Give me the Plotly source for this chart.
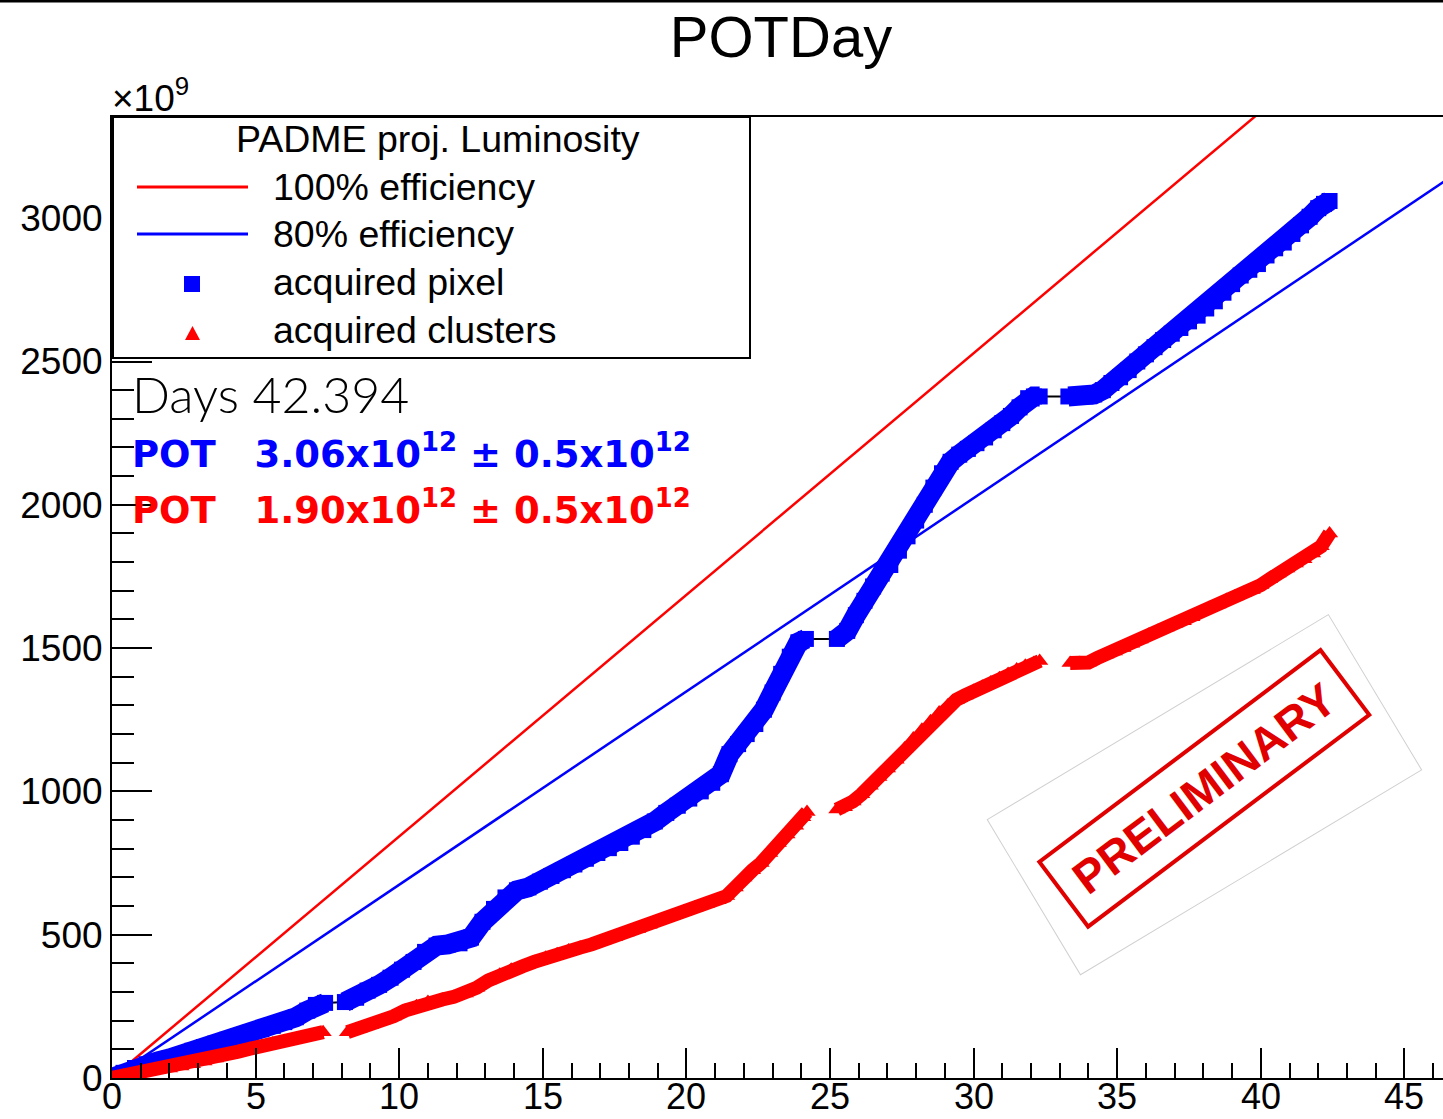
import plotly.graph_objects as go

# ---------------- data (POT in units of 1e9) ----------------
pixel_days = [0.0, 0.4, 0.8, 1.2, 1.6, 2.0, 2.4, 2.8, 3.2, 3.6, 4.0, 4.4, 4.8, 5.2, 5.6, 6.0, 6.4, 6.8, 7.1, 7.42,
              8.11, 8.5, 8.9, 9.3, 9.7, 10.1, 10.5, 10.9, 11.3, 11.7, 12.1, 12.5, 12.9, 13.3, 13.7, 14.1, 14.5, 14.9,
              15.3, 15.7, 16.1, 16.5, 16.9, 17.3, 17.7, 18.1, 18.5, 18.9, 19.3, 19.7, 20.1, 20.5, 20.9, 21.2, 21.5,
              21.8, 22.1, 22.4, 22.7, 23.0, 23.3, 23.6, 23.9, 24.16,
              25.24, 25.6, 25.9, 26.2, 26.5, 26.8, 27.1, 27.4, 27.7, 28.0, 28.3, 28.6, 28.9, 29.2, 29.5, 29.8, 30.1,
              30.4, 30.7, 31.0, 31.3, 31.6, 31.9, 32.1, 32.3,
              33.3, 33.6, 33.9, 34.2, 34.5, 34.8, 35.1, 35.4, 35.7, 36.0, 36.3, 36.6, 36.9, 37.2, 37.5, 37.8, 38.1,
              38.4, 38.7, 39.0, 39.3, 39.6, 39.9, 40.2, 40.5, 40.8, 41.1, 41.4, 41.7, 42.0, 42.2, 42.394]
pixel_pot = [0, 18, 35, 48, 58, 68, 80, 95, 108, 120, 133, 145, 158, 170, 182, 195, 212, 235, 255, 262,
             265, 280, 305, 325, 350, 378, 405, 440, 462, 466, 470, 490, 545, 590, 630, 655, 665, 685,
             705, 725, 745, 765, 785, 802, 820, 842, 865, 895, 925, 950, 975, 1000, 1030, 1060, 1130,
             1165, 1200, 1235, 1285, 1345, 1410, 1470, 1520, 1532,
             1532, 1560, 1615, 1665, 1715, 1760, 1790, 1840, 1890, 1945, 2000, 2060, 2110, 2150, 2175, 2195, 2215,
             2235, 2260, 2285, 2310, 2340, 2372, 2378, 2378,
             2378, 2378, 2378, 2385, 2400, 2425, 2445, 2470, 2500, 2525, 2550, 2575, 2597, 2617, 2640, 2660, 2685,
             2710, 2740, 2770, 2800, 2820, 2840, 2870, 2895, 2915, 2945, 2975, 3005, 3035, 3050, 3060]

cluster_days = [0.0, 0.4, 0.8, 1.2, 1.6, 2.0, 2.4, 2.8, 3.2, 3.6, 4.0, 4.4, 4.8, 5.2, 5.6, 6.0, 6.4, 6.8, 7.1, 7.35,
                8.2, 8.6, 9.0, 9.4, 9.8, 10.2, 10.6, 11.0, 11.5, 11.9, 12.3, 12.7, 13.1, 13.5, 13.9, 14.3, 14.7,
                15.1, 15.5, 15.9, 16.3, 16.7, 17.1, 17.5, 17.9, 18.3, 18.7, 19.1, 19.5, 19.9, 20.3, 20.7, 21.1,
                21.4, 21.7, 22.0, 22.3, 22.6, 22.9, 23.2, 23.5, 23.8, 24.05, 24.2,
                25.24, 25.5, 25.8, 26.1, 26.4, 26.7, 27.0, 27.3, 27.6, 27.9, 28.2, 28.5, 28.8, 29.1, 29.4, 29.7,
                30.0, 30.3, 30.6, 30.9, 31.2, 31.5, 31.8, 32.1, 32.3,
                33.36, 33.7, 34.0, 34.3, 34.6, 34.9, 35.2, 35.5, 35.8, 36.1, 36.4, 36.7, 37.0, 37.3, 37.6, 37.9,
                38.2, 38.5, 38.8, 39.1, 39.4, 39.7, 40.0, 40.3, 40.6, 40.9, 41.2, 41.5, 41.8, 42.1, 42.394]
cluster_pot = [0, 8, 15, 22, 28, 33, 40, 48, 58, 68, 80, 92, 102, 110, 120, 128, 135, 143, 150, 160,
               160, 172, 185, 200, 215, 235, 250, 265, 274, 283, 295, 315, 340, 360, 378, 390, 405,
               420, 432, 445, 455, 466, 480, 492, 508, 520, 535, 550, 565, 580, 595, 608, 620,
               635, 665, 700, 725, 750, 785, 820, 850, 880, 910, 928,
               937, 945, 965, 990, 1020, 1050, 1080, 1110, 1150, 1185, 1215, 1245, 1275, 1300, 1320, 1335,
               1350, 1365, 1380, 1395, 1410, 1425, 1438, 1448, 1455,
               1448, 1448, 1450, 1465, 1478, 1488, 1500, 1515, 1530, 1547, 1560, 1572, 1585, 1594, 1608, 1625,
               1640, 1652, 1668, 1680, 1692, 1703, 1720, 1740, 1760, 1778, 1795, 1810, 1830, 1855, 1900]

# projected luminosity at 100% and 80% efficiency
proj_days = [0, 47]
proj_100 = [0, 3962]
proj_80 = [0, 3170]

x_ticks = [0, 5, 10, 15, 20, 25, 30, 35, 40, 45]
y_ticks = [0, 500, 1000, 1500, 2000, 2500, 3000]

days_total = "42.394"
pot_pixel_label = "3.06"
pot_cluster_label = "1.90"

# ---------------- geometry helpers ----------------
W, H = 1443, 1119
ML, MR, MT, MB = 112, 0, 117, 41
PW, PH = W - ML - MR, H - MT - MB


def px(x):
    return (x - ML) / PW


def py(y):
    return (H - MB - y) / PH


def with_breaks(xs, ys, gap=0.6):
    """Insert None between points separated by a run pause."""
    bx, by = [], []
    for i, (a, b) in enumerate(zip(xs, ys)):
        if i and a - xs[i - 1] > gap:
            bx.append(None)
            by.append(None)
        bx.append(a)
        by.append(b)
    return bx, by


BLUE, RED = "#0000ff", "#ff0000"
SANS = "Liberation Sans, Arial, Helvetica, sans-serif"
GOTHIC = "DejaVu Sans, Lato, sans-serif"

fig = go.Figure()

# projection lines
fig.add_trace(go.Scatter(x=proj_days, y=proj_100, mode="lines",
                         line=dict(color=RED, width=2.5), showlegend=False))
fig.add_trace(go.Scatter(x=proj_days, y=proj_80, mode="lines",
                         line=dict(color=BLUE, width=2.5), showlegend=False))

# pixel series: thin black graph line underneath, then the marker band
fig.add_trace(go.Scatter(x=pixel_days, y=pixel_pot, mode="lines",
                         line=dict(color="black", width=2), showlegend=False))
bx, by = with_breaks(pixel_days, pixel_pot)
fig.add_trace(go.Scatter(x=bx, y=by, mode="lines+markers",
                         line=dict(color=BLUE, width=20),
                         marker=dict(symbol="square", size=16, color=BLUE),
                         showlegend=False))

# cluster series
cx, cy = with_breaks(cluster_days, cluster_pot)
fig.add_trace(go.Scatter(x=cx, y=cy, mode="lines+markers",
                         line=dict(color=RED, width=14),
                         marker=dict(symbol="triangle-up", size=15, color=RED),
                         showlegend=False))

axis_common = dict(showgrid=False, zeroline=False, showline=True, linecolor="black", linewidth=2,
                   ticks="inside", tickcolor="black", tickwidth=2, automargin=False,
                   tickfont=dict(family=SANS, size=37, color="black"))

# x tick labels are placed as annotations below so they sit close to the axis
fig.update_xaxes(range=[0, PW / 28.72], tickvals=x_ticks, ticklen=30, mirror=True, showticklabels=False,
                 minor=dict(dtick=1, ticks="inside", ticklen=15, tickcolor="black", tickwidth=2),
                 **axis_common)
fig.update_yaxes(range=[0, PH / 0.2866], tickvals=y_ticks, ticklen=40, mirror=False,
                 minor=dict(dtick=100, ticks="inside", ticklen=22, tickcolor="black", tickwidth=2),
                 **axis_common)

shapes = []
annotations = []

for t in x_ticks:
    annotations.append(dict(text=str(t), x=t, xref="x", y=py(1118), yref="paper",
                            xanchor="center", yanchor="bottom", showarrow=False, borderpad=0,
                            font=dict(family=SANS, size=36, color="black")))

# outer canvas top edge
shapes.append(dict(type="line", xref="paper", yref="paper", x0=px(0), x1=px(W), y0=py(1), y1=py(1),
                   line=dict(color="black", width=3)))

# legend box
shapes.append(dict(type="rect", xref="paper", yref="paper", x0=px(113), x1=px(750), y0=py(117), y1=py(358),
                   line=dict(color="black", width=2), fillcolor="white", layer="above"))
shapes.append(dict(type="line", xref="paper", yref="paper", x0=px(137), x1=px(248), y0=py(187), y1=py(187),
                   line=dict(color=RED, width=3)))
shapes.append(dict(type="line", xref="paper", yref="paper", x0=px(137), x1=px(248), y0=py(234), y1=py(234),
                   line=dict(color=BLUE, width=3)))
shapes.append(dict(type="rect", xref="paper", yref="paper", x0=px(184), x1=px(200), y0=py(276), y1=py(292),
                   line=dict(width=0), fillcolor=BLUE, layer="above"))
shapes.append(dict(type="path", xref="paper", yref="paper",
                   path=f"M {px(185)},{py(340)} L {px(200)},{py(340)} L {px(192.5)},{py(326)} Z",
                   line=dict(width=0), fillcolor=RED, layer="above"))

annotations.append(dict(text="PADME proj. Luminosity", x=px(438), y=py(139), xref="paper", yref="paper",
                        xanchor="center", yanchor="middle", showarrow=False,
                        font=dict(family=SANS, size=37.5, color="black")))
legend_rows = [("100% efficiency", 187), ("80% efficiency", 234),
               ("acquired pixel", 282), ("acquired clusters", 330)]
for label, yy in legend_rows:
    annotations.append(dict(text=label, x=px(271), y=py(yy), xref="paper", yref="paper",
                            xanchor="left", yanchor="middle", showarrow=False,
                            font=dict(family=SANS, size=37.5, color="black")))

# exponent label
annotations.append(dict(text="\u00d710<sup>9</sup>", x=px(110), y=py(95), xref="paper", yref="paper",
                        xanchor="left", yanchor="middle", showarrow=False,
                        font=dict(family=SANS, size=37, color="black")))

# run summary
annotations.append(dict(text=f"Days {days_total}", x=px(130), y=py(394), xref="paper", yref="paper",
                        xanchor="left", yanchor="middle", showarrow=False,
                        font=dict(family="Lato, DejaVu Sans, sans-serif", size=50, color="black", weight=300)))
sp = "\u00a0"
annotations.append(dict(text=f"<b>POT{sp*3}{pot_pixel_label}x10<sup>12</sup>{sp}\u00b1{sp}0.5x10<sup>12</sup></b>",
                        x=px(130), y=py(451), xref="paper", yref="paper",
                        xanchor="left", yanchor="middle", showarrow=False,
                        font=dict(family=GOTHIC, size=37, color=BLUE)))
annotations.append(dict(text=f"<b>POT{sp*3}{pot_cluster_label}x10<sup>12</sup>{sp}\u00b1{sp}0.5x10<sup>12</sup></b>",
                        x=px(130), y=py(508), xref="paper", yref="paper",
                        xanchor="left", yanchor="middle", showarrow=False,
                        font=dict(family=GOTHIC, size=37, color=RED)))

# preliminary stamp
annotations.append(dict(text=sp, x=px(1204), y=py(795), xref="paper", yref="paper",
                        xanchor="center", yanchor="middle", showarrow=False, textangle=-31,
                        width=397, height=180, bgcolor="white", bordercolor="#d0d0d0", borderwidth=1,
                        borderpad=0, font=dict(size=10)))
annotations.append(dict(text="<b>PRELIMINARY</b>", x=px(1204), y=py(788), xref="paper", yref="paper",
                        xanchor="center", yanchor="middle", showarrow=False, textangle=-37,
                        width=348, height=77, bordercolor="#e00000", borderwidth=4, borderpad=0,
                        font=dict(family=SANS, size=46, color="#e00000")))

fig.update_layout(
    width=W, height=H, autosize=False,
    margin=dict(l=ML, r=MR, t=MT, b=MB, pad=0),
    paper_bgcolor="white", plot_bgcolor="white",
    title=dict(text="POTDay", x=781 / W, xanchor="center", y=1 - 37 / H, yanchor="middle",
               font=dict(family=SANS, size=58, color="black")),
    shapes=shapes, annotations=annotations, showlegend=False,
)

fig.write_html("out.html")
